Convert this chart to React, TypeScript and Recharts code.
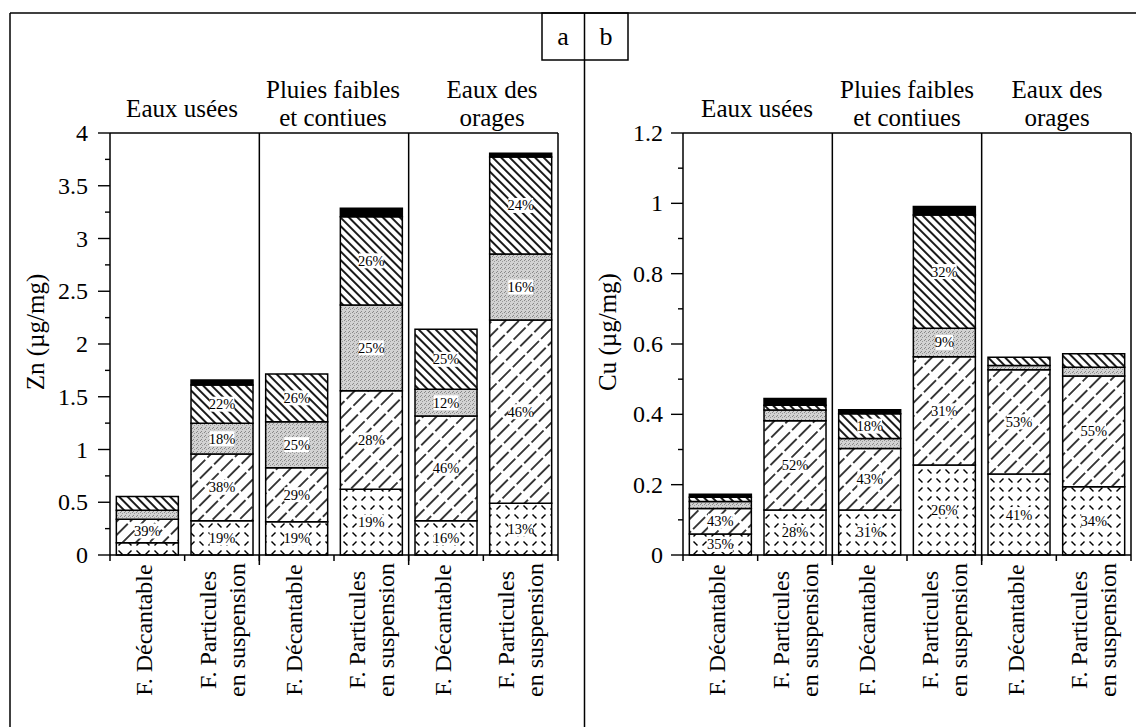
import React from 'react';
import { BarChart, Bar, XAxis, YAxis, ReferenceLine, LabelList } from 'recharts';

// ---------- data ----------
const CATS = ['c1', 'c2', 'c3', 'c4', 'c5', 'c6'];
const X_LABELS: string[][] = [
  ['F. Décantable'],
  ['F. Particules', 'en suspension'],
  ['F. Décantable'],
  ['F. Particules', 'en suspension'],
  ['F. Décantable'],
  ['F. Particules', 'en suspension'],
];
const GROUPS: string[][] = [['Eaux usées'], ['Pluies faibles', 'et contiues'], ['Eaux des', 'orages']];

// Zn (µg/mg) – stacked fractions, bottom to top
const znF1 = [0.115, 0.325, 0.316, 0.623, 0.325, 0.49];
const znF2 = [0.225, 0.632, 0.512, 0.935, 0.992, 1.737];
const znF3 = [0.085, 0.291, 0.436, 0.812, 0.253, 0.626];
const znF4 = [0.13, 0.363, 0.452, 0.837, 0.569, 0.92];
const znF5 = [0, 0.047, 0, 0.08, 0, 0.035];
const znL1 = ['', '19%', '19%', '19%', '16%', '13%'];
const znL2 = ['39%', '38%', '29%', '28%', '46%', '46%'];
const znL3 = ['', '18%', '25%', '25%', '12%', '16%'];
const znL4 = ['', '22%', '26%', '26%', '25%', '24%'];
const znTicks = [0, 0.25, 0.5, 0.75, 1, 1.25, 1.5, 1.75, 2, 2.25, 2.5, 2.75, 3, 3.25, 3.5, 3.75, 4];

// Cu (µg/mg)
const cuF1 = [0.06, 0.128, 0.128, 0.256, 0.23, 0.194];
const cuF2 = [0.072, 0.254, 0.175, 0.308, 0.297, 0.315];
const cuF3 = [0.02, 0.03, 0.028, 0.081, 0.012, 0.025];
const cuF4 = [0.012, 0.014, 0.071, 0.322, 0.023, 0.038];
const cuF5 = [0.009, 0.019, 0.011, 0.024, 0, 0];
const cuL1 = ['35%', '28%', '31%', '26%', '41%', '34%'];
const cuL2 = ['43%', '52%', '43%', '31%', '53%', '55%'];
const cuL3 = ['', '', '', '9%', '', ''];
const cuL4 = ['', '', '18%', '32%', '', ''];
const cuTicks = [0, 0.1, 0.2, 0.3, 0.4, 0.5, 0.6, 0.7, 0.8, 0.9, 1, 1.1, 1.2];

const buildRows = (f: number[][], l: string[][]) =>
  CATS.map((cat, i) => ({
    cat,
    f1: f[0][i], f2: f[1][i], f3: f[2][i], f4: f[3][i], f5: f[4][i],
    l1: l[0][i], l2: l[1][i], l3: l[2][i], l4: l[3][i],
  }));

const znRows = buildRows([znF1, znF2, znF3, znF4, znF5], [znL1, znL2, znL3, znL4]);
const cuRows = buildRows([cuF1, cuF2, cuF3, cuF4, cuF5], [cuL1, cuL2, cuL3, cuL4]);

// ---------- styling ----------
const FONT = '"Liberation Serif", "Times New Roman", serif';
const PLOT_TOP = 133;
const PLOT_BOTTOM = 555;
const H = 727;

const renderPct = (props: any) => {
  const value = props.value;
  if (!value) return null;
  const vb = props.viewBox ?? props;
  const x = Number(vb.x ?? props.x);
  const y = Number(vb.y ?? props.y);
  const w = Number(vb.width ?? props.width);
  const h = Number(vb.height ?? props.height);
  const cx = x + w / 2;
  const cy = y + h / 2;
  const tw = String(value).length * 7.6 + 2;
  return (
    <g>
      <rect x={cx - tw / 2} y={cy - 7.5} width={tw} height={15} fill="#fff" />
      <text x={cx} y={cy} textAnchor="middle" dominantBaseline="central" fontSize={14.5} fontFamily={FONT} fill="#000">
        {value}
      </text>
    </g>
  );
};

const makeXTick = (slot: number) => (props: any) => {
  const { x, index } = props;
  const lines = X_LABELS[index] || [];
  const left = x - slot / 2;
  const off = lines.length === 1 ? -3 : 0;
  return (
    <g>
      <line x1={left} y1={PLOT_BOTTOM} x2={left} y2={PLOT_BOTTOM + 6} stroke="#000" strokeWidth={1.5} />
      {index === CATS.length - 1 && (
        <line x1={x + slot / 2} y1={PLOT_BOTTOM} x2={x + slot / 2} y2={PLOT_BOTTOM + 6} stroke="#000" strokeWidth={1.5} />
      )}
      {lines.map((ln, i) => (
        <text
          key={i}
          x={0}
          y={0}
          transform={`translate(${x + off + (i - (lines.length - 1) / 2) * 29},630) rotate(-90)`}
          textAnchor="middle"
          dominantBaseline="central"
          fontSize={24}
          fontFamily={FONT}
          fill="#000"
        >
          {ln}
        </text>
      ))}
    </g>
  );
};

const makeYTick = (axisX: number, step: number, gap: number) => (props: any) => {
  const { y, payload } = props;
  const v = Number(payload.value);
  const major = Math.abs(v / step - Math.round(v / step)) < 1e-6;
  return (
    <g>
      <line x1={axisX - (major ? 12 : 5)} y1={y} x2={axisX} y2={y} stroke="#000" strokeWidth={1.4} />
      {major && (
        <text x={axisX - gap} y={y} textAnchor="end" dominantBaseline="central" fontSize={24} fontFamily={FONT} fill="#000">
          {String(v)}
        </text>
      )}
    </g>
  );
};

const divider = (p: any) => {
  const top = Math.min(p.y1, p.y2);
  const bot = Math.max(p.y1, p.y2);
  return <line x1={p.x1} y1={top} x2={p.x2} y2={bot + 10} stroke="#000" strokeWidth={1.5} />;
};

type PanelProps = {
  left: number;
  width: number;
  marginLeft: number;
  marginRight: number;
  rows: any[];
  ticks: number[];
  domain: [number, number];
  step: number;
  gap: number;
};

function Panel({ left, width, marginLeft, marginRight, rows, ticks, domain, step, gap }: PanelProps) {
  const axisX = marginLeft + 60;
  const slot = (width - marginRight - axisX) / CATS.length;
  const barStroke = { stroke: '#000', strokeWidth: 1.5 };
  return (
    <div style={{ position: 'absolute', left, top: 0 }}>
      <BarChart
        width={width}
        height={H}
        data={rows}
        margin={{ top: PLOT_TOP, right: marginRight, left: marginLeft, bottom: H - PLOT_BOTTOM - 160 }}
        barCategoryGap="8.5%"
      >
        <XAxis
          dataKey="cat"
          height={160}
          interval={0}
          tickLine={false}
          axisLine={{ stroke: '#000', strokeWidth: 1.5 }}
          tick={makeXTick(slot)}
        />
        <YAxis
          type="number"
          width={60}
          domain={domain}
          ticks={ticks}
          interval={0}
          tickLine={false}
          axisLine={{ stroke: '#000', strokeWidth: 1.5 }}
          tick={makeYTick(axisX, step, gap)}
        />
        <ReferenceLine y={domain[1]} stroke="#000" strokeWidth={1.5} />
        <ReferenceLine x="c6" position="end" stroke="#000" strokeWidth={1.5} />
        <ReferenceLine x="c3" position="start" shape={divider} />
        <ReferenceLine x="c5" position="start" shape={divider} />
        <Bar dataKey="f1" stackId="s" fill="url(#pDot)" {...barStroke} isAnimationActive={false}>
          <LabelList dataKey="l1" content={renderPct} />
        </Bar>
        <Bar dataKey="f2" stackId="s" fill="url(#pFwd)" {...barStroke} isAnimationActive={false}>
          <LabelList dataKey="l2" content={renderPct} />
        </Bar>
        <Bar dataKey="f3" stackId="s" fill="url(#pGray)" {...barStroke} isAnimationActive={false}>
          <LabelList dataKey="l3" content={renderPct} />
        </Bar>
        <Bar dataKey="f4" stackId="s" fill="url(#pBack)" {...barStroke} isAnimationActive={false}>
          <LabelList dataKey="l4" content={renderPct} />
        </Bar>
        <Bar dataKey="f5" stackId="s" fill="#000" {...barStroke} isAnimationActive={false} />
      </BarChart>
    </div>
  );
}

function Overlay() {
  const headerX = [[182, 333, 492], [757, 907, 1057]];
  const txt = { fontFamily: FONT, fill: '#000' } as const;
  return (
    <svg width={1136} height={H} style={{ position: 'absolute', left: 0, top: 0 }}>
      <line x1={10} y1={13} x2={1136} y2={13} stroke="#000" strokeWidth={1.5} />
      <line x1={10} y1={13} x2={10} y2={H} stroke="#000" strokeWidth={1.5} />
      <line x1={584.5} y1={13} x2={584.5} y2={H} stroke="#000" strokeWidth={1.5} />
      <rect x={542} y={13} width={86} height={47} fill="none" stroke="#000" strokeWidth={1.5} />
      <text x={563} y={45} textAnchor="middle" fontSize={26} {...txt}>a</text>
      <text x={606} y={45} textAnchor="middle" fontSize={26} {...txt}>b</text>
      {headerX.map((xs, p) =>
        GROUPS.map((g, gi) =>
          g.map((ln, li) => (
            <text
              key={`${p}-${gi}-${li}`}
              x={xs[gi]}
              y={g.length === 1 ? 117 : 98 + li * 28}
              textAnchor="middle"
              fontSize={25}
              {...txt}
            >
              {ln}
            </text>
          ))
        )
      )}
      <text transform="translate(35,332) rotate(-90)" textAnchor="middle" dominantBaseline="central" fontSize={25} {...txt}>
        Zn (µg/mg)
      </text>
      <text transform="translate(607,332) rotate(-90)" textAnchor="middle" dominantBaseline="central" fontSize={25} {...txt}>
        Cu (µg/mg)
      </text>
    </svg>
  );
}

function Patterns() {
  return (
    <svg width={0} height={0} style={{ position: 'absolute', left: 0, top: 0 }}>
      <defs>
        <pattern id="pBack" patternUnits="userSpaceOnUse" width={6} height={6} patternTransform="rotate(-45)">
          <rect width={6} height={6} fill="#fff" />
          <line x1={3} y1={0} x2={3} y2={6} stroke="#000" strokeWidth={1.8} />
        </pattern>
        <pattern id="pFwd" patternUnits="userSpaceOnUse" width={9.5} height={20} patternTransform="rotate(45)">
          <rect width={9.5} height={20} fill="#fff" />
          <line x1={4.75} y1={0} x2={4.75} y2={17} stroke="#000" strokeWidth={1.5} />
        </pattern>
        <pattern id="pGray" patternUnits="userSpaceOnUse" width={4} height={4}>
          <rect width={4} height={4} fill="#d2d2d2" />
          <rect x={0} y={0} width={1} height={1} fill="#888" />
          <rect x={2} y={1} width={1} height={1} fill="#999" />
          <rect x={1} y={3} width={1} height={1} fill="#888" />
        </pattern>
        <pattern id="pDot" patternUnits="userSpaceOnUse" width={18} height={18}>
          <rect width={18} height={18} fill="#fff" />
          <line x1={1.5} y1={1.5} x2={5.5} y2={5.5} stroke="#000" strokeWidth={1.5} />
          <line x1={10.5} y1={10.5} x2={14.5} y2={14.5} stroke="#000" strokeWidth={1.5} />
          <line x1={10.5} y1={5.5} x2={14.5} y2={1.5} stroke="#000" strokeWidth={1.5} />
          <line x1={1.5} y1={14.5} x2={5.5} y2={10.5} stroke="#000" strokeWidth={1.5} />
        </pattern>
      </defs>
    </svg>
  );
}

export default function App() {
  return (
    <div style={{ position: 'absolute', left: 0, top: 0, width: 1136, height: H, background: '#fff', fontFamily: FONT }}>
      <Patterns />
      <Overlay />
      <Panel left={0} width={584} marginLeft={50} marginRight={26} rows={znRows} ticks={znTicks} domain={[0, 4]} step={0.5} gap={22} />
      <Panel left={584} width={552} marginLeft={39} marginRight={5} rows={cuRows} ticks={cuTicks} domain={[0, 1.2]} step={0.2} gap={20} />
    </div>
  );
}
